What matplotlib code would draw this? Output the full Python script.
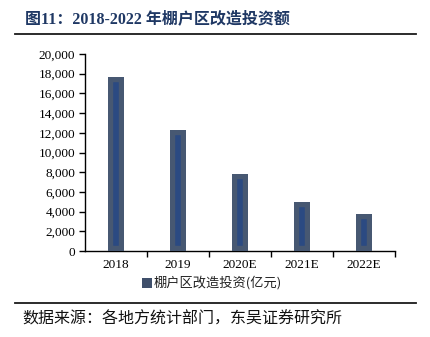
import matplotlib
matplotlib.use("Agg")
import matplotlib.pyplot as plt
from matplotlib.ticker import FuncFormatter, FixedLocator
from matplotlib.lines import Line2D
from matplotlib.patches import Rectangle

categories = ["2018", "2019", "2020E", "2021E", "2022E"]
values = [17700, 12300, 7800, 4950, 3780]
yticks = [0, 2000, 4000, 6000, 8000, 10000, 12000, 14000, 16000, 18000, 20000]
series_name = "棚户区改造投资(亿元)"
title = "图11：2018-2022 年棚户区改造投资额"
source = "数据来源：各地方统计部门，东吴证券研究所"

W, H = 431, 337
fig = plt.figure(figsize=(W / 100, H / 100), dpi=100)
fig.patch.set_facecolor("white")

serif = ["Liberation Serif", "Noto Sans CJK SC"]
cjk = ["Noto Sans CJK SC", "DejaVu Sans"]

ax = fig.add_axes([85 / W, (H - 251) / H, 310 / W, 197 / H])
x = list(range(len(categories)))
bars = ax.bar(x, values, width=0.26, color="#2B4A82", edgecolor="#475872",
              linewidth=7.5, zorder=3)
for b in bars:
    b.set_clip_path(b)

ax.set_xlim(-0.5, len(categories) - 0.5)
ax.set_ylim(0, 20000)
ax.set_yticks(yticks)
ax.yaxis.set_major_formatter(FuncFormatter(lambda v, p: f"{int(v):,}"))
ax.set_xticks(x)
ax.set_xticklabels(categories)
ax.xaxis.set_minor_locator(FixedLocator([i + 0.5 for i in x]))
ax.tick_params(axis="x", which="major", length=0, pad=6)
ax.tick_params(axis="x", which="minor", length=4, width=1, direction="out")
ax.tick_params(axis="y", length=4, width=1, direction="out", pad=3)
for lab in ax.get_xticklabels() + ax.get_yticklabels():
    lab.set_fontfamily("Liberation Serif")
    lab.set_fontsize(9.5)
for s in ["top", "right"]:
    ax.spines[s].set_visible(False)
for s in ["left", "bottom"]:
    ax.spines[s].set_color("black")
    ax.spines[s].set_linewidth(1.0)

# Title
fig.text(25 / W, 1 - 19 / H, title, family=serif, weight="bold", fontsize=11.5,
         color="#1F3864", va="center", ha="left")
fig.add_artist(Line2D([15 / W, 416 / W], [1 - 34 / H, 1 - 34 / H], color="#1a1a1a",
                      linewidth=1.3, transform=fig.transFigure))

# Legend
fig.add_artist(Rectangle((142 / W, 1 - 288 / H), 10 / W, 10 / H, facecolor="#3F4F6B",
                         edgecolor="none", transform=fig.transFigure))
fig.text(154 / W, 1 - 283 / H, series_name, family=cjk, fontsize=9.5,
         color="#222222", va="center", ha="left")

# Footer
fig.add_artist(Line2D([15 / W, 416 / W], [1 - 303 / H, 1 - 303 / H], color="#1a1a1a",
                      linewidth=1.3, transform=fig.transFigure))
fig.text(22 / W, 1 - 319 / H, source, family=cjk, fontsize=11.5,
         color="#111111", va="center", ha="left")

fig.savefig("out.png", dpi=100)
